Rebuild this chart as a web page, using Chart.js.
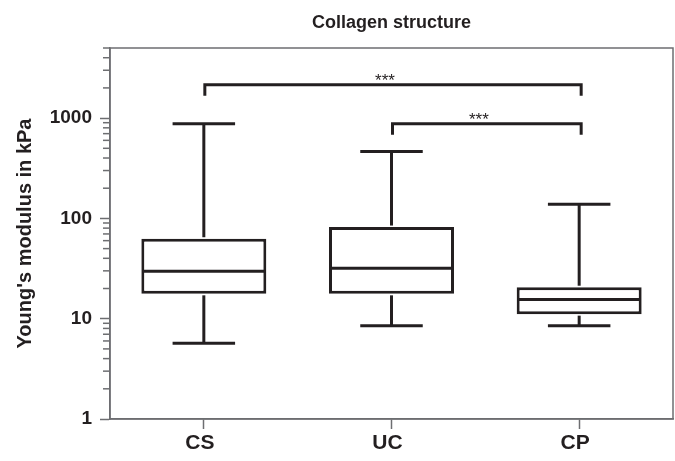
<!DOCTYPE html>
<html>
<script src="https://cdn.jsdelivr.net/npm/chart.js@4.4.0/dist/chart.umd.min.js"></script>
<body style="margin:0;background:#fff">

<div style="width:675px;height:461px"><canvas id="boxChart"></canvas></div>

<script>
// box plot values (kPa)
var groups = ["CS", "UC", "CP"];
var lowWhisker = [5.7, 8.5, 8.5];
var lowerQuart = [17.7, 17.7, 11.1];
var medians = [29.7, 31.8, 15.5];
var upperQuart = [62.7, 82, 20.6];
var highWhisker = [880, 465, 138];

// significance brackets
var sigFrom = [0, 1];
var sigTo = [2, 2];
var sigLevel = [2150, 880];
var sigText = ["***", "***"];

var majorTicks = [1, 10, 100, 1000];
var minorTicks = [2, 3, 4, 5, 6, 7, 8, 9, 20, 30, 40, 50, 60, 70, 80, 90,
  200, 300, 400, 500, 600, 700, 800, 900, 2000, 3000, 4000, 5000];

var ink = "#231f20";
var frame = "#6d6e71";
Chart.defaults.font.family = "'Liberation Sans', Arial, sans-serif";

var boxParts = {
  id: "boxParts",
  beforeDatasetsDraw: function(chart) {
    var ctx = chart.ctx, a = chart.chartArea, y = chart.scales.y;
    ctx.save();
    ctx.strokeStyle = frame;
    ctx.lineWidth = 1.5;
    ctx.strokeRect(a.left, a.top, a.right - a.left, a.bottom - a.top);
    // minor ticks on the log axis
    minorTicks.forEach(function(v) {
      var py = y.getPixelForValue(v);
      ctx.beginPath();
      ctx.moveTo(a.left - 7, py);
      ctx.lineTo(a.left, py);
      ctx.stroke();
    });
    ctx.restore();
  },
  afterDatasetsDraw: function(chart) {
    var ctx = chart.ctx, x = chart.scales.x, y = chart.scales.y;
    var bars = chart.getDatasetMeta(0).data;
    function seg(x1, y1, x2, y2) {
      ctx.beginPath();
      ctx.moveTo(x1, y1);
      ctx.lineTo(x2, y2);
      ctx.stroke();
    }
    ctx.save();
    ctx.strokeStyle = ink;
    ctx.lineWidth = 3;
    groups.forEach(function(g, i) {
      var cx = x.getPixelForValue(i);
      var half = bars[i].width / 2;
      var cap = half / 2;
      var yMed = y.getPixelForValue(medians[i]);
      seg(cx - half + 1, yMed, cx + half - 1, yMed);
      var yHi = y.getPixelForValue(highWhisker[i]);
      var yLo = y.getPixelForValue(lowWhisker[i]);
      seg(cx, y.getPixelForValue(upperQuart[i]) - 1.5, cx, yHi);
      seg(cx - cap, yHi, cx + cap, yHi);
      seg(cx, y.getPixelForValue(lowerQuart[i]) + 1.5, cx, yLo);
      seg(cx - cap, yLo, cx + cap, yLo);
    });
    // brackets
    ctx.fillStyle = ink;
    ctx.font = "17px 'Liberation Sans', Arial, sans-serif";
    ctx.textAlign = "center";
    ctx.textBaseline = "alphabetic";
    sigFrom.forEach(function(f, k) {
      var x1 = x.getPixelForValue(f) + 1;
      var x2 = x.getPixelForValue(sigTo[k]) + 2;
      var yb = y.getPixelForValue(sigLevel[k]);
      ctx.beginPath();
      ctx.moveTo(x1, yb + 11);
      ctx.lineTo(x1, yb);
      ctx.lineTo(x2, yb);
      ctx.lineTo(x2, yb + 11);
      ctx.stroke();
      ctx.fillText(sigText[k], (x1 + x2) / 2 - 8, yb + 1);
    });
    ctx.restore();
  }
};

var boxChart = new Chart("boxChart", {
  type: "bar",
  data: {
    labels: groups,
    datasets: [{
      data: groups.map(function(g, i) { return [lowerQuart[i], upperQuart[i]]; }),
      backgroundColor: "#ffffff",
      borderColor: ink,
      borderWidth: 3,
      borderSkipped: false,
      categoryPercentage: 1,
      barPercentage: 0.666
    }]
  },
  options: {
    responsive: true,
    maintainAspectRatio: false,
    animation: false,
    layout: {padding: {left: 0, right: 2, top: 0, bottom: 0}},
    plugins: {
      legend: {display: false},
      tooltip: {enabled: false},
      title: {
        display: true,
        fullSize: false,
        text: "Collagen structure",
        color: ink,
        font: {size: 18, weight: "bold"},
        padding: {top: 12, bottom: 14.4}
      }
    },
    scales: {
      x: {
        offset: true,
        afterFit: function(s) { s.height = 42; },
        grid: {drawOnChartArea: false, offset: false, tickLength: 10, tickColor: frame, tickWidth: 1.5},
        border: {color: frame, width: 1.5},
        ticks: {color: ink, font: {size: 21, weight: "bold"}, padding: 2, labelOffset: -4}
      },
      y: {
        type: "logarithmic",
        min: 1,
        max: 5000,
        afterBuildTicks: function(s) {
          s.ticks = majorTicks.map(function(v) { return {value: v, major: true}; });
        },
        afterFit: function(s) { s.width = 110; },
        grid: {drawOnChartArea: false, tickLength: 10, tickColor: frame, tickWidth: 1.5},
        border: {color: frame, width: 1.5},
        ticks: {
          color: ink,
          font: {size: 19, weight: "bold"},
          padding: 8,
          callback: function(v) { return String(v); }
        },
        title: {
          display: true,
          text: "Young's modulus in kPa",
          color: ink,
          font: {size: 20, weight: "bold"},
          padding: {top: 13, bottom: 0}
        }
      }
    }
  },
  plugins: [boxParts]
});
</script>

</body>
</html>
